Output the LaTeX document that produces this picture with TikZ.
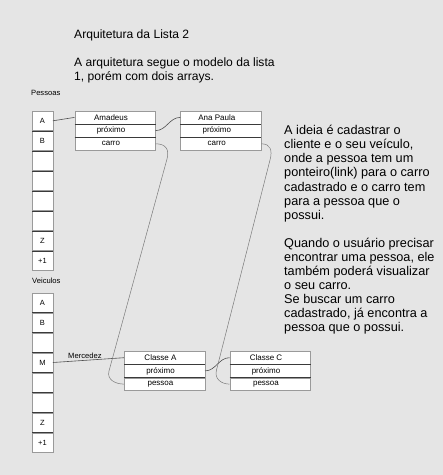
\documentclass[tikz,border=0pt]{standalone}
\usepackage{fontspec}
\setmainfont{Liberation Sans}
\usetikzlibrary{positioning}
\definecolor{bg}{HTML}{E5E5E5}
\definecolor{cellline}{HTML}{9A9A9A}
\definecolor{sepline}{HTML}{3A3A3A}
\definecolor{linkcol}{HTML}{505050}
\definecolor{longcol}{HTML}{7A7A7A}

\begin{document}
\begin{tikzpicture}[x=1pt,y=-1pt]
%cells get a dark top line, only the first one keeps the grey border
\tikzstyle{cell}=[draw=cellline, fill=white, minimum width=20.4pt, minimum height=19.6pt, inner sep=0pt, font=\fontsize{7.5}{9}\selectfont]
\tikzstyle{sepcell}=[cell, append after command={(\tikzlastnode.north west) edge[draw=sepline, line width=0.6pt] (\tikzlastnode.north east)}]
\tikzstyle{field}=[draw=cellline, fill=white, minimum width=80.6pt, minimum height=12.8pt, inner sep=0pt, font=\fontsize{8}{9}\selectfont, execute at end node={\hspace*{8pt}}]
\tikzstyle{sepfield}=[field, append after command={(\tikzlastnode.north west) edge[draw=sepline, line width=0.6pt] (\tikzlastnode.north east)}]
\tikzstyle{link}=[draw=linkcol, line width=0.6pt]
\tikzstyle{longlink}=[draw=longcol, line width=0.5pt]
\tikzstyle{caption}=[anchor=base west, inner sep=0pt, font=\fontsize{7.6}{9}\selectfont]

\fill[bg] (0,0) rectangle (443,475);
\useasboundingbox (0,0) rectangle (443,475);

%multi-line texts are placed by the baseline of their last line
\node[anchor=base west, inner sep=0pt, font=\fontsize{12.1}{13.3}\selectfont](T) at (74,38.3) {Arquitetura da Lista 2};
\node[anchor=base west, inner sep=0pt, align=left, font=\fontsize{12.1}{13.3}\selectfont](I) at (74,80) {A arquitetura segue o modelo da lista\\1, porém com dois arrays.};
\node[anchor=base west, inner sep=0pt, align=left, font=\fontsize{12.7}{14.07}\selectfont](N) at (284,331.7) {A ideia é cadastrar o\\cliente e o seu veículo,\\onde a pessoa tem um\\ponteiro(link) para o carro\\cadastrado e o carro tem\\para a pessoa que o\\possui.\\[14.07pt]Quando o usuário precisar\\encontrar uma pessoa, ele\\também poderá visualizar\\o seu carro.\\Se buscar um carro\\cadastrado, já encontra a\\pessoa que o possui.};

%array Pessoas
\node[caption](LP) at (31,95.5) {Pessoas};
\node[cell](P1) at (42.5,120.8) {A};
\node[sepcell](P2) [below = 0pt of P1] {B};
\node[sepcell](P3) [below = 0pt of P2] {};
\node[sepcell](P4) [below = 0pt of P3] {};
\node[sepcell](P5) [below = 0pt of P4] {};
\node[sepcell](P6) [below = 0pt of P5] {};
\node[sepcell](P7) [below = 0pt of P6] {Z};
\node[sepcell](P8) [below = 0pt of P7] {+1};

%array Veiculos
\node[caption](LV) at (32,283.5) {Veiculos};
\node[cell](V1) at (42.5,302.5) {A};
\node[sepcell](V2) [below = 0pt of V1] {B};
\node[sepcell](V3) [below = 0pt of V2] {};
\node[sepcell](V4) [below = 0pt of V3] {M};
\node[sepcell](V5) [below = 0pt of V4] {};
\node[sepcell](V6) [below = 0pt of V5] {};
\node[sepcell](V7) [below = 0pt of V6] {Z};
\node[sepcell](V8) [below = 0pt of V7] {+1};

%pessoas
\node[field](Am1) at (115,117.4) {Amadeus};
\node[sepfield](Am2) [below = 0pt of Am1] {próximo};
\node[sepfield](Am3) [below = 0pt of Am2] {carro};
\node[field](AP1) at (220.8,117.4) {Ana Paula};
\node[sepfield](AP2) [below = 0pt of AP1] {próximo};
\node[sepfield](AP3) [below = 0pt of AP2] {carro};

%carros
\node[field](CA1) at (164.5,357.7) {Classe A};
\node[sepfield](CA2) [below = 0pt of CA1] {próximo};
\node[sepfield](CA3) [below = 0pt of CA2] {pessoa};
\node[field](CC1) at (270,357.7) {Classe C};
\node[sepfield](CC2) [below = 0pt of CC1] {próximo};
\node[sepfield](CC3) [below = 0pt of CC2] {pessoa};

\draw[link] (P1.east) -- (Am1.west);
\draw[link] (Am2.east) to[out=0, in=180] (AP1.west);
\draw[link] (V4.east) -- node[above, pos=0.45, inner sep=1pt, font=\fontsize{7.6}{9}\selectfont]{Mercedez} (CA1.west);
\draw[link] (CA2.east) to[out=0, in=180] (CC1.west);
\draw[longlink] (Am3.east) .. controls +(10,0) and +(2.7,-10) .. (167,159) -- (109,371) .. controls +(-2.5,9) and +(-8,0) .. (CA3.west);
\draw[longlink] (AP3.east) .. controls +(9,0) and +(2.7,-10) .. (270,160) -- (216.5,370) .. controls +(-2.5,9) and +(-8,0) .. (CC3.west);
\end{tikzpicture}
\end{document}
